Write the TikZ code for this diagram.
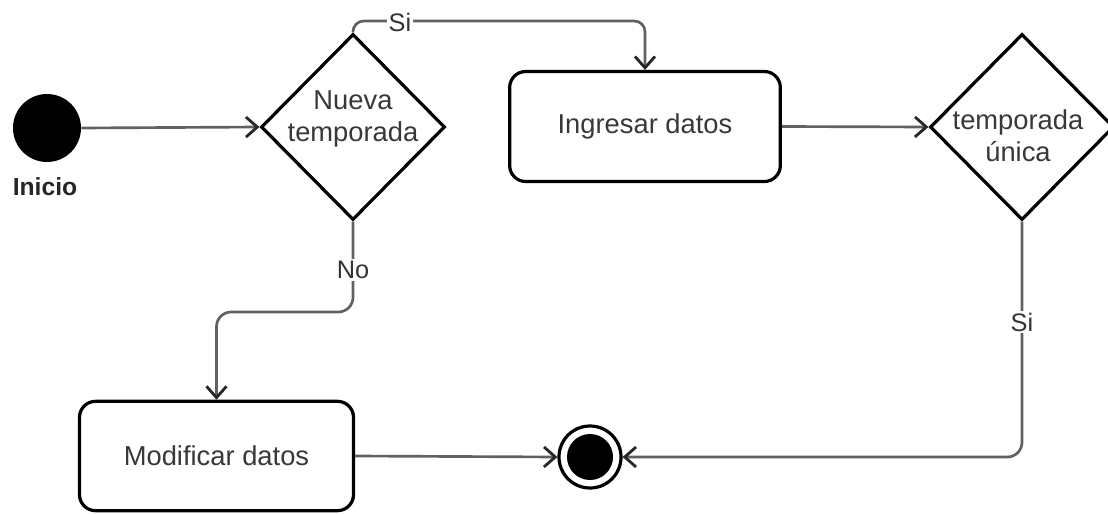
\documentclass[tikz,border=0pt]{standalone}
\usepackage{fontspec}
\setmainfont{Liberation Sans}
\usetikzlibrary{shapes.geometric,arrows.meta}
\begin{document}
\begin{tikzpicture}[x=0.75pt,y=-0.75pt,
  shapeline/.style={draw=black,line width=2.4pt},
  decision/.style={shapeline,diamond,minimum width=138pt,minimum height=139.5pt,inner sep=0pt,fill=white},
  action/.style={shapeline,rectangle,rounded corners=12pt,fill=white,inner sep=0pt,font=\fontsize{20.5}{24}\selectfont,text=black!78},
  flow/.style={draw=black!62,line width=2pt,-{Straight Barb[length=8.5pt,width=15pt,line width=2.1pt,color=black!85]}},
  guard/.style={fill=white,inner sep=1.5pt,font=\fontsize{19}{22}\selectfont,text=black!80},
  dtext/.style={align=center,inner sep=0pt,font=\fontsize{20.5}{24}\selectfont,text=black!78}
]
\useasboundingbox (0,0) rectangle (1108,514);
% start
\node[circle,fill=black,minimum size=51pt,inner sep=0pt] (ini) at (47,128) {};
\node[font=\bfseries\fontsize{18.5}{22}\selectfont,text=black!85,inner sep=0pt] (initxt) at (45,187) {Inicio};
% decisions
\node[decision] (d1) at (353,127) {};
\node[dtext] (d1t) at (353,119) {Nueva\\temporada};
\node[decision] (d2) at (1022,127) {};
\node[dtext] (d2t) at (1018,136) {temporada\\única};
% actions
\node[action,minimum width=203pt,minimum height=82.5pt] (r1) at (645,126.5) {Ingresar datos};
\node[action,minimum width=205.5pt,minimum height=82pt] (r2) at (216.5,456) {Modificar datos};
% end
\node[circle,draw=black,line width=2.4pt,minimum size=46.5pt,inner sep=0pt] (fin) at (590,457) {};
\node[circle,fill=black,minimum size=34.5pt,inner sep=0pt] (finin) at (fin) {};
% connectors
\coordinate (siA) at (353,21);
\coordinate (noA) at (353,312);
\draw[flow] (ini.east) -- (d1.west);
\draw[flow,rounded corners=8pt] (d1.north) -- (siA) -| (r1.north);
\draw[flow] (r1.east) -- (d2.west);
\draw[flow,rounded corners=11pt] (d1.south) -- (noA) -| (r2.north);
\draw[flow] (r2.east) -- (fin.west);
\draw[flow,rounded corners=11pt] (d2.south) |- (fin.east);
% guards
\node[guard] (si1) at (400,22) {Si};
\node[guard] (no1) at (353,270) {No};
\node[guard] (si2) at (1022,322) {Si};
\end{tikzpicture}
\end{document}
